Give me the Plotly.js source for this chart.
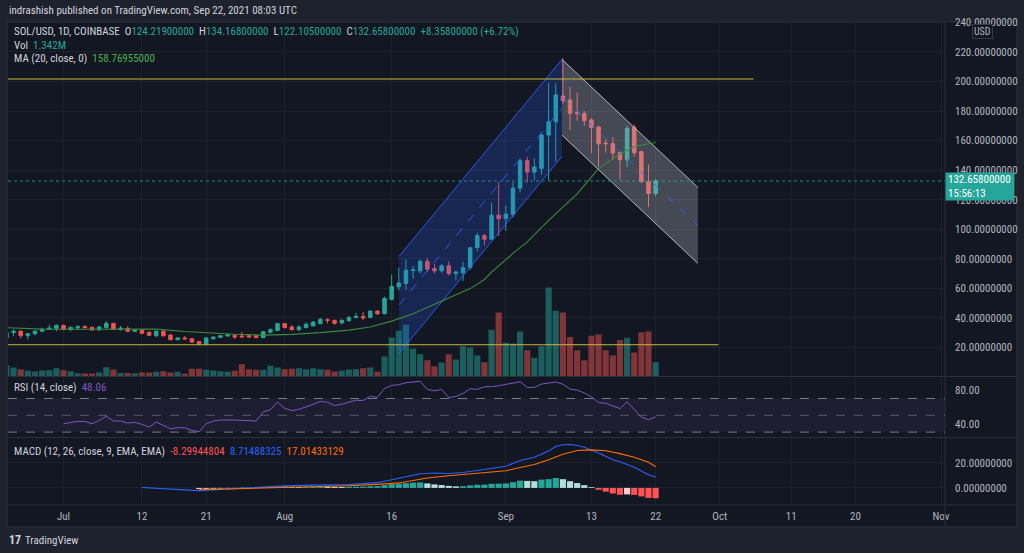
<!DOCTYPE html>
<html><head><meta charset="utf-8">
<script src="https://cdn.plot.ly/plotly-3.0.1.min.js"></script>
<style>html,body{margin:0;padding:0;background:#1e222d;}#chart{width:1024px;height:553px;}</style>
</head><body><div id="chart"></div>
<script>
// ---------- data ----------
const candleStart = '2021-06-23';
const opens = [26.5,30.0,31.0,27.9,29.3,31.0,32.4,33.0,
 34.9,32.2,33.3,34.2,33.6,31.8,33.4,36.3,32.2,32.9,30.9,31.7,30.2,27.9,31.0,28.4,25.2,26.4,25.9,24.0,22.3,25.9,26.8,27.7,28.2,27.7,27.9,27.9,26.6,30.2,31.5,
 36.1,33.8,32.0,33.4,34.5,36.1,38.8,38.3,36.6,38.1,40.2,41.0,40.2,44.6,42.8,52.5,61.0,63.3,72.0,71.8,78.3,73.4,71.8,75.2,70.0,70.5,74.1,87.6,95.7,93.2,109.5,
 107.2,110.0,127.8,146.5,138.7,141.2,163.8,172.8,190.2,187.5,179.2,178.5,174.0,169.2,158.4,157.9,152.0,147.0,169.0,152.5,132.2,124.219];
const highs = [30.5,32.2,31.6,29.8,31.4,33.4,35.4,35.6,
 35.3,34.2,34.9,35.0,34.0,34.5,37.8,36.6,34.5,34.2,32.5,32.4,31.0,31.3,31.5,29.0,27.0,27.6,26.2,24.3,27.0,27.4,28.3,28.8,28.4,30.6,28.4,28.2,31.2,33.0,36.5,
 36.5,35.2,35.2,37.0,37.6,40.0,39.5,38.8,39.2,41.3,43.5,44.0,45.0,45.0,54.3,69.3,73.9,79.7,75.0,79.5,80.6,76.3,76.5,78.3,71.8,78.0,88.0,97.5,97.0,118.0,132.0,
 116.0,132.0,148.0,149.0,148.0,165.0,199.0,198.8,215.8,196.5,192.7,180.0,175.0,170.0,161.0,162.4,152.5,170.0,171.0,153.0,143.9,134.168];
const lows = [25.8,27.7,26.2,25.4,28.2,30.2,31.8,30.8,
 31.5,30.8,32.2,32.7,31.3,31.5,32.7,31.8,31.3,30.2,30.5,29.0,27.8,27.0,27.3,24.8,24.8,25.0,23.2,21.4,22.0,25.2,26.3,27.3,25.7,26.3,26.5,26.3,26.3,29.5,31.0,
 32.9,31.3,31.0,32.9,34.2,35.6,36.3,35.2,35.6,37.4,39.7,38.5,39.8,42.0,42.4,51.8,58.6,59.0,66.6,70.0,71.0,70.0,70.5,68.5,65.5,65.0,72.5,85.0,89.0,93.0,95.5,
 99.0,108.0,125.0,131.5,133.0,137.0,133.2,145.7,185.0,167.2,173.5,170.0,151.5,142.3,152.0,147.0,133.6,142.0,149.0,131.0,115.0,122.105];
const closes = [30.0,31.0,27.9,29.3,31.0,32.4,33.0,34.9,
 32.2,33.6,34.0,33.4,31.8,33.8,36.3,32.2,33.0,30.9,32.0,29.5,28.2,31.0,27.9,25.2,26.4,25.8,23.6,22.3,26.4,27.0,27.9,28.4,27.0,27.2,27.0,26.6,30.6,32.0,36.1,
 33.4,32.0,33.8,35.6,37.2,39.0,38.3,36.3,38.3,40.2,41.0,39.9,44.6,42.8,53.2,61.3,63.6,72.3,72.5,78.3,72.9,71.8,75.2,70.0,71.1,73.9,87.4,95.7,93.2,109.5,107.2,
 110.2,127.8,146.3,138.7,142.1,163.8,172.8,190.9,187.0,178.5,178.6,173.5,169.0,157.9,157.9,151.6,147.0,168.3,151.8,132.3,124.2,132.658];
const volumes = [1.06,0.85,0.66,0.53,0.47,0.56,0.59,0.78,
 0.59,0.50,0.31,0.28,0.28,0.38,0.88,0.66,0.34,0.34,0.31,0.38,0.38,0.44,0.50,0.38,0.44,0.25,0.72,0.72,0.63,0.56,0.50,0.44,0.53,1.16,0.69,0.63,0.63,1.00,0.85,
 0.69,0.72,0.78,0.69,0.78,0.69,0.63,0.47,0.56,0.66,0.69,0.78,0.85,0.44,1.88,3.66,4.29,4.85,2.60,2.10,1.53,0.97,1.31,2.10,1.60,2.85,2.72,1.97,1.35,4.38,6.01,
 3.16,3.10,4.23,2.47,1.75,2.85,8.36,6.17,6.01,3.72,2.47,1.53,3.82,3.94,2.47,1.97,3.44,3.63,2.25,4.16,4.23,1.342];

const maDates = ['2021-06-23','2021-06-28','2021-07-04','2021-07-10','2021-07-14','2021-07-18','2021-07-22','2021-07-25','2021-07-29','2021-08-02','2021-08-06','2021-08-10','2021-08-13','2021-08-16','2021-08-19','2021-08-21','2021-08-25','2021-08-27','2021-08-29','2021-08-30','2021-09-02','2021-09-04','2021-09-07','2021-09-11','2021-09-14','2021-09-17','2021-09-19','2021-09-22'];
const maValues = [33.3,32.4,32.3,32.3,32.4,30.8,29.6,28.9,28.3,28.8,30.0,31.7,33.8,37.8,42.8,47.0,55.3,59.8,66.0,71.0,83.7,91.4,106,124,141,151,156,158.77];

const rsiStart = '2021-07-01';
const rsi = [40,41.6,42.8,42.8,40,44,48.8,43.2,43.2,40.8,41.6,39.2,36,42,38,34,35.2,35.2,32,30.4,40,43.2,44.4,44.8,44.4,44,44,43.2,54,56.8,65.6,
 58.4,55.6,57.2,60,63.2,66.4,65.6,61.6,63.2,66,68,67.6,72.8,71.2,82,85.6,86.4,88.8,89.6,90.4,80.8,79.2,80.8,71.2,72.4,76,81.6,80.8,84,84,85.2,
 86.8,88,90,83.2,83.2,87.2,88,89.6,87.2,81.2,80,76.8,72,65.2,64.4,61.6,58,66,56.8,48,44.8,48.06];

const macdDates = ['2021-07-12','2021-07-16','2021-07-20','2021-07-23','2021-07-27','2021-08-01','2021-08-05','2021-08-10','2021-08-14','2021-08-16','2021-08-18','2021-08-20','2021-08-22','2021-08-24','2021-08-26','2021-08-28','2021-08-30','2021-09-01','2021-09-03','2021-09-05','2021-09-07','2021-09-08','2021-09-09','2021-09-10','2021-09-11','2021-09-12','2021-09-14','2021-09-16','2021-09-17','2021-09-19','2021-09-20','2021-09-21','2021-09-22'];
const macdValues = [0.3,-0.8,-2.2,-1.2,0.3,1.6,2.2,2.6,4.2,6.8,9.0,11.3,12.0,11.6,12.4,14.0,15.5,17.4,22.0,24.5,29.5,33.2,34.6,34.8,34.0,32.6,27.9,22.6,21.0,16.5,13.5,10.5,8.71];
const signalDates = ['2021-07-20','2021-07-27','2021-08-05','2021-08-10','2021-08-14','2021-08-17','2021-08-19','2021-08-21','2021-08-24','2021-08-28','2021-09-01','2021-09-03','2021-09-05','2021-09-07','2021-09-09','2021-09-11','2021-09-12','2021-09-13','2021-09-15','2021-09-17','2021-09-19','2021-09-21','2021-09-22'];
const signalValues = [-1.5,-0.5,1.0,1.7,2.8,4.0,6.0,8.0,9.8,11.7,13.8,16.3,18.8,22.5,27.0,30.0,30.4,30.5,29.8,27.5,24.5,20.5,17.01];
const histStart = '2021-07-20';
const macdHist = [-0.8,-0.7,-0.6,-0.5,-0.3,0.2,0.3,0.3,0.4,0.6,0.8,1.2,
 1.1,0.9,0.8,0.9,1.1,1.3,1.2,0.9,0.8,0.9,1.0,1.0,1.3,1.4,2.2,3.0,3.4,3.8,4.2,4.4,3.6,2.8,2.3,1.6,1.2,1.4,2.0,2.5,2.6,3.3,3.4,
 3.6,4.6,5.8,5.6,5.4,6.6,7.0,7.9,7.0,5.4,3.9,2.2,0.6,-1.5,-3.0,-4.5,-5.5,-5.2,-5.6,-6.8,-8.0,-8.3];

// drawings (date / price anchors)
const blueChDates = ['2021-08-17 01:00','2021-09-08 21:00'];
const blueChTop = [81.7, 215.0];
const blueChBottom = [16.0, 149.3];
const grayChDates = ['2021-09-08 21:00','2021-09-27 22:00'];
const grayChTop = [215.0, 128.3];
const grayChBottom = [163.7, 76.9];
const resistDates = ['2021-06-20','2021-10-05 17:00'];
const resistLevel = 201.7;
const supportDates = ['2021-06-20','2021-09-30 19:00'];
const supportLevel = 21.8;
const lastPrice = 132.658;

const xTickVals = ['2021-07-01','2021-07-12','2021-07-21','2021-08-01','2021-08-16','2021-09-01','2021-09-13','2021-09-22','2021-10-01','2021-10-11','2021-10-20','2021-11-01'];
const xTickText = ['Jul','12','21','Aug','16','Sep','13','22','Oct','11','20','Nov'];
const priceTicks = [20,40,60,80,100,120,140,160,180,200,220,240];

// ---------- helpers ----------
function days(start, n){const d0=Date.parse(start+'T00:00:00Z');const o=[];for(let i=0;i<n;i++){o.push(new Date(d0+i*86400000).toISOString().slice(0,10));}return o;}
const dates = days(candleStart, closes.length);
const rsiDates = days(rsiStart, rsi.length);
const histDates = days(histStart, macdHist.length);
const X = px => (px-8)/937;
const Y = py => (505-py)/483;
const UP='#26a69a', DN='#ef5350';
const volColors = closes.map((c,i)=> c>=opens[i] ? 'rgba(38,166,154,0.5)' : 'rgba(239,83,80,0.5)');
const histColors = macdHist.map((v,i)=>{const p=i>0?macdHist[i-1]:v; if(v>=0) return v>=p?'#26a69a':'#b2dfdb'; return v<p?'#ff5252':'#ffcdd2';});
const FONT = 'Liberation Sans Narrow, Roboto Condensed, Arial Narrow, Roboto, sans-serif';

function chPoly(d,top,bot){return {x:[d[0],d[1],d[1],d[0],d[0]], y:[top[0],top[1],bot[1],bot[0],top[0]]};}
const bp = chPoly(blueChDates, blueChTop, blueChBottom);
const gp = chPoly(grayChDates, grayChTop, grayChBottom);
const mid = (a,b)=>[(a[0]+b[0])/2,(a[1]+b[1])/2];

const traces = [
 {type:'bar', x:dates, y:volumes, xaxis:'x', yaxis:'y', marker:{color:volColors,line:{width:0}}, hoverinfo:'skip'},
 {type:'scatter', mode:'lines', x:bp.x, y:bp.y, yaxis:'y2', fill:'toself', fillcolor:'rgba(41,98,255,0.22)', line:{width:0}, hoverinfo:'skip'},
 {type:'scatter', mode:'lines', x:blueChDates, y:blueChTop, yaxis:'y2', line:{color:'rgba(41,98,255,0.9)',width:1}},
 {type:'scatter', mode:'lines', x:blueChDates, y:blueChBottom, yaxis:'y2', line:{color:'rgba(41,98,255,0.9)',width:1}},
 {type:'scatter', mode:'lines', x:blueChDates, y:mid(blueChTop,blueChBottom), yaxis:'y2', line:{color:'rgba(41,98,255,0.85)',width:1,dash:'dash'}},
 {type:'scatter', mode:'lines', x:gp.x, y:gp.y, yaxis:'y2', fill:'toself', fillcolor:'rgba(178,181,190,0.32)', line:{width:0}, hoverinfo:'skip'},
 {type:'scatter', mode:'lines', x:grayChDates, y:grayChTop, yaxis:'y2', line:{color:'#b2b5be',width:1}},
 {type:'scatter', mode:'lines', x:grayChDates, y:grayChBottom, yaxis:'y2', line:{color:'#b2b5be',width:1}},
 {type:'scatter', mode:'lines', x:grayChDates, y:mid(grayChTop,grayChBottom), yaxis:'y2', line:{color:'rgba(41,98,255,0.85)',width:1,dash:'dash'}},
 {type:'scatter', mode:'lines', x:resistDates, y:[resistLevel,resistLevel], yaxis:'y2', line:{color:'#c9b83a',width:1.2}},
 {type:'scatter', mode:'lines', x:supportDates, y:[supportLevel,supportLevel], yaxis:'y2', line:{color:'#c9b83a',width:1.2}},
 {type:'scatter', mode:'lines', x:maDates, y:maValues, yaxis:'y2', line:{color:'#3b8a3f',width:1.1}},
 {type:'candlestick', x:dates, open:opens, high:highs, low:lows, close:closes, xaxis:'x', yaxis:'y2',
  increasing:{line:{color:UP,width:1},fillcolor:UP}, decreasing:{line:{color:DN,width:1},fillcolor:DN}, hoverinfo:'skip'},
 {type:'scatter', mode:'lines', x:rsiDates, y:rsi, xaxis:'x', yaxis:'y3', line:{color:'#7e57c2',width:1}},
 {type:'bar', x:histDates, y:macdHist, xaxis:'x', yaxis:'y4', marker:{color:histColors,line:{width:0}}},
 {type:'scatter', mode:'lines', x:macdDates, y:macdValues, xaxis:'x', yaxis:'y4', line:{color:'#2962ff',width:1.1}},
 {type:'scatter', mode:'lines', x:signalDates, y:signalValues, xaxis:'x', yaxis:'y4', line:{color:'#ff6d00',width:1.1}}
];

const GRID = '#1d212c';
const SEP = '#2a2e39';
const shapes = [
 {type:'rect', xref:'paper', yref:'paper', x0:X(7), x1:X(1017), y0:Y(527), y1:Y(22), fillcolor:'#131722', line:{color:SEP,width:1}, layer:'below'},
 {type:'line', xref:'paper', yref:'paper', x0:X(7), x1:X(1017), y0:Y(376.5), y1:Y(376.5), line:{color:SEP,width:1}},
 {type:'line', xref:'paper', yref:'paper', x0:X(7), x1:X(1017), y0:Y(437.5), y1:Y(437.5), line:{color:SEP,width:1}},
 {type:'line', xref:'paper', yref:'paper', x0:X(7), x1:X(1017), y0:Y(505), y1:Y(505), line:{color:SEP,width:1}},
 {type:'line', xref:'paper', yref:'paper', x0:1, x1:1, y0:Y(527), y1:Y(22), line:{color:SEP,width:1}},
 {type:'rect', xref:'paper', yref:'y3', x0:0, x1:1, y0:30, y1:70, fillcolor:'rgba(126,87,194,0.10)', line:{width:0}, layer:'below'},
 {type:'line', xref:'paper', yref:'y3', x0:0, x1:1, y0:70, y1:70, line:{color:'#787b86',width:1,dash:'dash'}},
 {type:'line', xref:'paper', yref:'y3', x0:0, x1:1, y0:50, y1:50, line:{color:'#565a66',width:1,dash:'dash'}},
 {type:'line', xref:'paper', yref:'y3', x0:0, x1:1, y0:30, y1:30, line:{color:'#787b86',width:1,dash:'dash'}},
 {type:'line', xref:'paper', yref:'y2', x0:0, x1:1, y0:lastPrice, y1:lastPrice, line:{color:'rgba(38,166,154,0.8)',width:1,dash:'dot'}}
];

function ann(px,py,text,opt){return Object.assign({xref:'paper',yref:'paper',x:X(px),y:Y(py),xanchor:'left',yanchor:'middle',showarrow:false,text:text,font:{family:FONT,size:11,color:'#d1d4dc'}},opt||{});}
const S = (c,t)=>'<span style="color:'+c+'">'+t+'</span>';
const sp = '\u00a0\u00a0';
const annotations = [
 ann(7,11,'indrashish published on TradingView.com, Sep 22, 2021 08:03 UTC'),
 ann(12,32,'SOL/USD, 1D, COINBASE'+sp+'O'+S(UP,'124.21900000')+sp+'H'+S(UP,'134.16800000')+sp+'L'+S(UP,'122.10500000')+sp+'C'+S(UP,'132.65800000')+sp+S(UP,'+8.35800000 (+6.72%)')),
 ann(12,45,'Vol'+sp+S(UP,'1.342M')),
 ann(12,58,'MA (20, close, 0)'+sp+S('#4caf50','158.76955000')),
 ann(12,387,'RSI (14, close)'+sp+S('#7e57c2','48.06')),
 ann(12,451,'MACD (12, 26, close, 9, EMA, EMA)'+sp+S('#ff5252','-8.29944804')+sp+S('#2962ff','8.71488325')+sp+S('#ff6d00','17.01433129')),
 ann(945,186.5,'132.65800000<br>15:56:13',{align:'left', bgcolor:'#26a69a', borderpad:2, width:64, height:23, valign:'middle',
   font:{family:FONT,size:11,color:'#ffffff'}}),
 ann(982.5,31,'USD',{xanchor:'center', bgcolor:'#131722', bordercolor:'#363a45', borderwidth:1, borderpad:1,
   font:{family:FONT,size:10,color:'#b2b5be'}}),
 ann(7,540,'<b>17</b>',{font:{family:FONT,size:12,color:'#d1d4dc'}}),
 ann(23,540,'TradingView',{font:{family:FONT,size:11,color:'#d1d4dc'}})
];

const layout = {
 width:1024, height:553,
 margin:{l:8,r:79,t:22,b:48,pad:0},
 paper_bgcolor:'#1e222d', plot_bgcolor:'#131722',
 showlegend:false, hovermode:false, bargap:0.14,
 font:{family:FONT,size:11,color:'#b2b5be'},
 xaxis:{type:'date', anchor:'y4', range:['2021-06-23 05:17','2021-11-01 13:27'], tickmode:'array', tickvals:xTickVals, ticktext:xTickText,
  showgrid:true, gridcolor:GRID, zeroline:false, showline:false, ticks:'', ticklabelstandoff:3, rangeslider:{visible:false}, fixedrange:true,
  tickfont:{family:FONT,size:11,color:'#b2b5be'}},
 yaxis:{domain:[Y(376.5),1], range:[0,33.3], visible:false, showgrid:false, fixedrange:true},
 yaxis2:{overlaying:'y', side:'right', range:[0.3,240.3], tickmode:'array', tickvals:priceTicks, ticktext:priceTicks.map(v=>v.toFixed(8)),
  showgrid:true, gridcolor:GRID, zeroline:false, showline:false, ticks:'', ticklabelstandoff:9, fixedrange:true,
  tickfont:{family:FONT,size:11,color:'#b2b5be'}},
 yaxis3:{domain:[Y(437.5),Y(377)], range:[23.6,95.6], side:'right', anchor:'x', tickmode:'array', tickvals:[40,80], ticktext:['40.00','80.00'],
  showgrid:false, zeroline:false, showline:false, ticks:'', ticklabelstandoff:9, fixedrange:true, tickfont:{family:FONT,size:11,color:'#b2b5be'}},
 yaxis4:{domain:[0,Y(438)], range:[-13.7,40], side:'right', anchor:'x', tickmode:'array', tickvals:[0,20], ticktext:['0.00000000','20.00000000'],
  showgrid:true, gridcolor:GRID, zeroline:false, showline:false, ticks:'', ticklabelstandoff:9, fixedrange:true, tickfont:{family:FONT,size:11,color:'#b2b5be'}},
 shapes:shapes, annotations:annotations
};
Plotly.newPlot('chart', traces, layout, {staticPlot:true, displayModeBar:false});
</script></body></html>
